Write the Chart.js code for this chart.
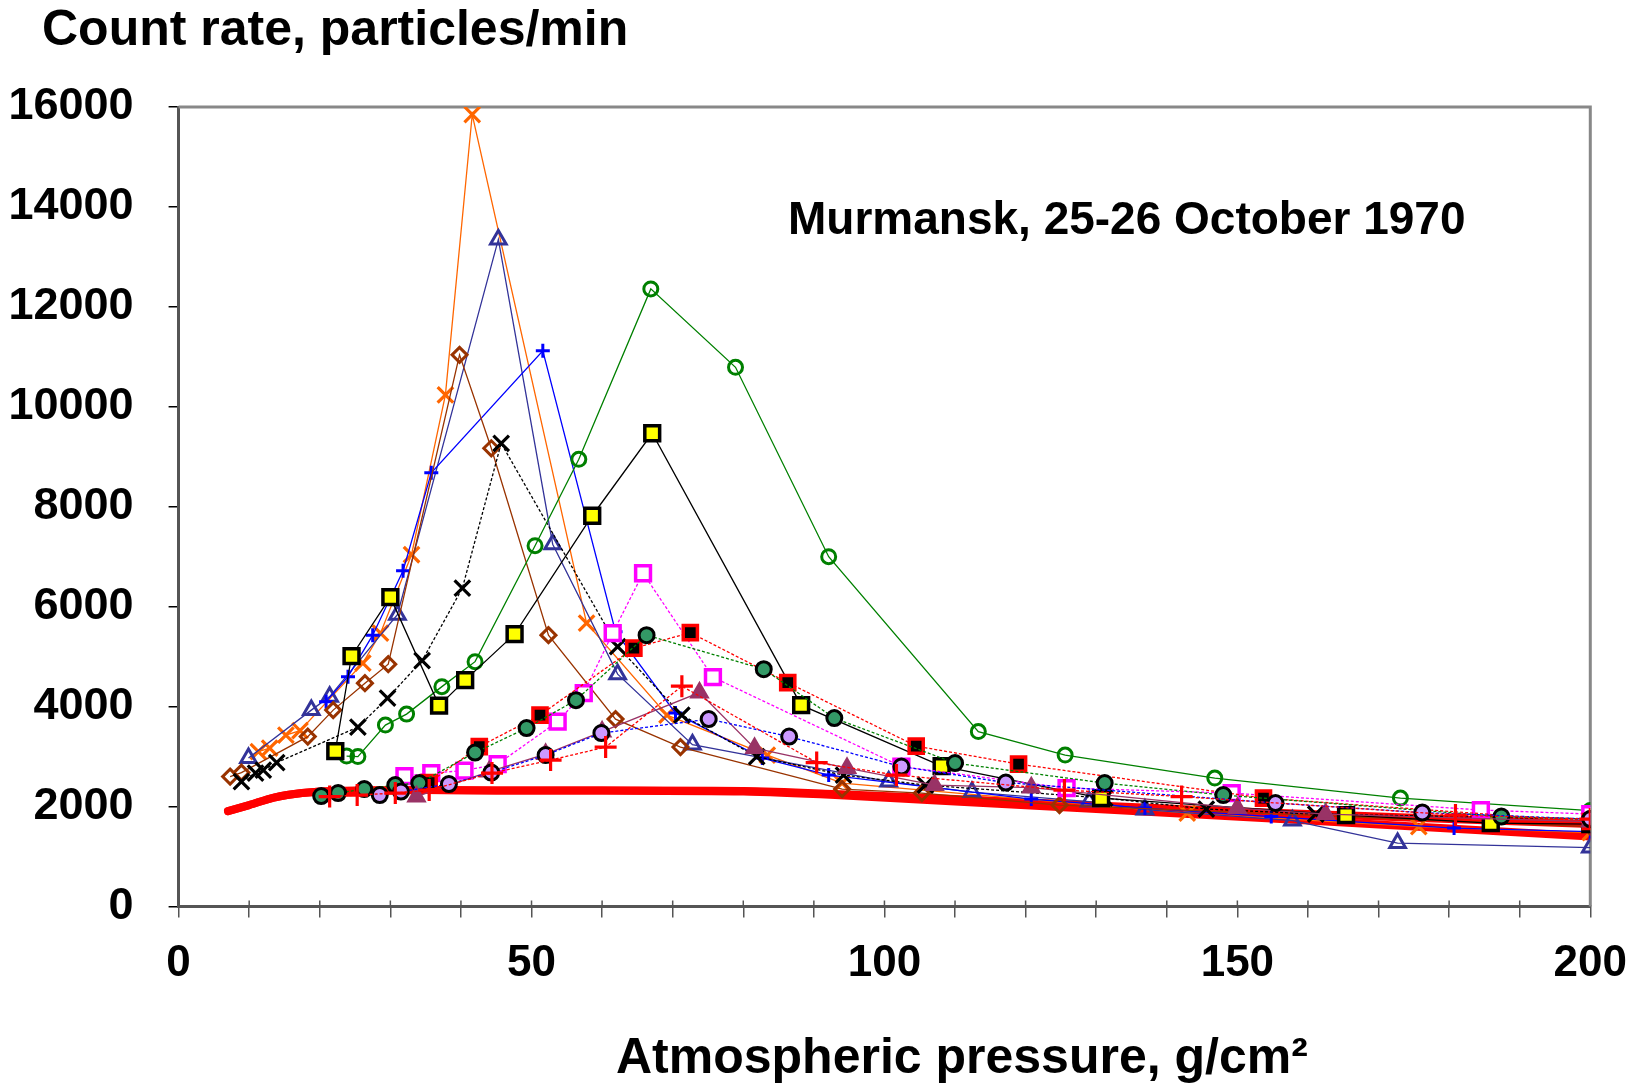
<!DOCTYPE html>
<html>
<head>
<meta charset="utf-8">
<script src="https://cdn.jsdelivr.net/npm/chart.js@4.4.1/dist/chart.umd.min.js"></script>
<style>html,body{margin:0;padding:0;background:#fff}canvas{display:block}</style>
</head>
<body>
<canvas id="cnt" width="1647" height="1084"></canvas>
<script>
// pressure g/cm2 (P) and count rate particles/min (C), one pair per flight
var orangeXP = [11.3, 12.9, 15.2, 17.2, 26.1, 28.6, 33.0, 37.8, 41.6, 57.8, 69.2, 83.4, 94.0, 142.9, 175.7, 200];
var orangeXC = [3100, 3170, 3430, 3520, 4870, 5470, 7040, 10240, 15850, 5670, 3830, 3030, 2470, 1870, 1600, 1480];
var navyTriP = [9.9, 18.8, 21.4, 31.0, 45.3, 53.0, 62.2, 72.8, 100.6, 112.4, 129.0, 136.9, 157.8, 172.7, 200];
var navyTriC = [2970, 3930, 4200, 5840, 13350, 7250, 4650, 3240, 2500, 2290, 2100, 1940, 1720, 1270, 1180];
var bluePlusP = [20.9, 24.0, 27.5, 31.8, 35.8, 51.6, 61.9, 70.4, 82.7, 92.1, 120.8, 136.9, 154.8, 180.7, 200];
var bluePlusC = [4100, 4600, 5430, 6720, 8680, 11120, 5500, 3870, 2970, 2630, 2150, 1970, 1800, 1570, 1500];
var brownDiaP = [7.3, 8.9, 18.3, 21.9, 26.4, 29.7, 39.8, 44.3, 52.4, 61.9, 71.1, 94.0, 105.3, 124.8, 200];
var brownDiaC = [2600, 2680, 3400, 3930, 4470, 4850, 11040, 9170, 5430, 3750, 3190, 2350, 2270, 2030, 1600];
var blackXP = [8.9, 10.9, 12.0, 13.9, 25.4, 29.6, 34.5, 40.2, 45.7, 62.2, 71.3, 81.9, 94.2, 105.8, 131.2, 145.6, 161.1, 200];
var blackXC = [2500, 2670, 2730, 2880, 3590, 4170, 4920, 6370, 9270, 5200, 3830, 3000, 2630, 2430, 2170, 1950, 1850, 1750];
var greenRingP = [23.8, 25.4, 29.3, 32.3, 37.3, 42.0, 50.5, 56.7, 66.9, 78.9, 92.1, 113.3, 125.6, 146.8, 173.1, 200];
var greenRingC = [3010, 3000, 3630, 3850, 4400, 4900, 7220, 8950, 12360, 10790, 7000, 3500, 3030, 2570, 2170, 1920];
var yellowSqP = [22.2, 24.5, 30.0, 36.9, 40.6, 47.6, 58.6, 67.1, 88.2, 108.1, 130.7, 165.4, 185.9, 200];
var yellowSqC = [3110, 5010, 6190, 4020, 4530, 5450, 7820, 9470, 4030, 2810, 2170, 1830, 1670, 1650];
var greenDotP = [20.2, 22.6, 26.3, 30.7, 34.1, 42.0, 49.3, 56.3, 66.3, 82.9, 92.9, 110.0, 131.2, 148.0, 187.4, 200];
var greenDotC = [2210, 2270, 2350, 2430, 2470, 3080, 3570, 4130, 5430, 4750, 3770, 2870, 2470, 2230, 1800, 1750];
var redSqP = [35.5, 42.6, 51.2, 64.5, 72.5, 86.3, 104.5, 119.0, 153.7, 200];
var redSqC = [2480, 3200, 3830, 5170, 5480, 4480, 3210, 2850, 2170, 1700];
var magentaSqP = [32.0, 35.8, 40.5, 45.2, 53.7, 57.4, 61.5, 65.8, 75.7, 102.4, 125.8, 149.2, 184.5, 200];
var magentaSqC = [2610, 2670, 2720, 2850, 3700, 4270, 5470, 6670, 4590, 2800, 2370, 2270, 1930, 1850];
var redPlusP = [21.4, 25.3, 30.7, 35.5, 44.4, 52.7, 60.5, 71.3, 90.4, 101.7, 125.5, 142.1, 180.9, 200];
var redPlusC = [2200, 2230, 2270, 2330, 2670, 2930, 3190, 4410, 2880, 2630, 2330, 2200, 1830, 1750];
var lilacP = [28.5, 31.5, 38.3, 44.3, 52.0, 59.9, 75.1, 86.5, 102.4, 117.2, 155.4, 176.2, 200];
var lilacC = [2230, 2300, 2450, 2680, 3030, 3470, 3750, 3400, 2800, 2480, 2070, 1880, 1750];
var purpleTriP = [33.7, 44.0, 52.0, 60.0, 73.8, 81.6, 94.7, 107.1, 120.8, 150.0, 162.5, 200];
var purpleTriC = [2200, 2700, 3050, 3500, 4280, 3170, 2770, 2430, 2380, 1970, 1850, 1700];
// background curve (thick red)
var bgP = [7, 10, 13.5, 17.5, 22, 35, 45, 60, 80, 93, 110, 130, 160, 200];
var bgC = [1910, 2030, 2180, 2270, 2310, 2330, 2320, 2320, 2310, 2250, 2150, 2020, 1850, 1650];
var bg2P = [7, 10, 13.5, 17.5, 22, 35, 45, 60, 80, 93, 110, 130, 160, 200];
var bg2C = [1910, 2030, 2180, 2270, 2310, 2330, 2320, 2320, 2300, 2230, 2100, 1950, 1720, 1400];

var xTicks = [0, 50, 100, 150, 200];

function pts(p, c) { return p.map(function (x, i) { return {x: x, y: c[i]}; }); }
function series(p, c, o) {
  var d = {data: pts(p, c), showLine: true, borderWidth: 1.3, pointBorderWidth: 2.8, pointHoverRadius: 0};
  for (var k in o) d[k] = o[k];
  return d;
}

var datasets = [
  series(redPlusP, redPlusC, {borderColor: '#ff0000', borderDash: [3, 2], pointStyle: 'cross', pointRadius: 11, pointBorderColor: '#ff0000', pointBorderWidth: 3.2}),
  series(lilacP, lilacC, {borderColor: '#0000ff', borderDash: [3, 2], pointStyle: 'circle', pointRadius: 7.5, pointBackgroundColor: '#cc99ff', pointBorderColor: '#000', pointBorderWidth: 3}),
  series(purpleTriP, purpleTriC, {borderColor: '#993366', pointStyle: 'triangle', pointRadius: 9, pointBackgroundColor: '#993366', pointBorderColor: '#993366'}),
  series(greenDotP, greenDotC, {borderColor: '#008000', borderDash: [3, 2], pointStyle: 'circle', pointRadius: 7.5, pointBackgroundColor: '#339966', pointBorderColor: '#000', pointBorderWidth: 3}),
  series(redSqP, redSqC, {borderColor: '#ff0000', borderDash: [3, 2], pointStyle: 'rect', pointRadius: 10, pointBackgroundColor: '#000', pointBorderColor: '#ff0000', pointBorderWidth: 3.5}),
  series(magentaSqP, magentaSqC, {borderColor: '#ff00ff', borderDash: [3, 2], pointStyle: 'rect', pointRadius: 10.5, pointBackgroundColor: '#fff', pointBorderColor: '#ff00ff', pointBorderWidth: 3.5}),
  series(yellowSqP, yellowSqC, {borderColor: '#000', pointStyle: 'rect', pointRadius: 10.5, pointBackgroundColor: '#ffff00', pointBorderColor: '#000', pointBorderWidth: 3.5}),
  series(greenRingP, greenRingC, {borderColor: '#008000', pointStyle: 'circle', pointRadius: 7, pointBackgroundColor: 'rgba(255,255,255,0)', pointBorderColor: '#008000', pointBorderWidth: 3}),
  series(blackXP, blackXC, {borderColor: '#000', borderDash: [3, 2], pointStyle: 'crossRot', pointRadius: 11, pointBorderColor: '#000', pointBorderWidth: 3.2}),
  series(brownDiaP, brownDiaC, {borderColor: '#993300', pointStyle: 'rectRot', pointRadius: 7.5, pointBackgroundColor: 'rgba(255,255,255,0)', pointBorderColor: '#993300', pointBorderWidth: 3}),
  series(bluePlusP, bluePlusC, {borderColor: '#0000ff', pointStyle: 'cross', pointRadius: 7, pointBorderColor: '#0000ff', pointBorderWidth: 3}),
  series(navyTriP, navyTriC, {borderColor: '#333399', pointStyle: 'triangle', pointRadius: 9, pointBackgroundColor: 'rgba(255,255,255,0)', pointBorderColor: '#333399', pointBorderWidth: 3}),
  series(orangeXP, orangeXC, {borderColor: '#ff6600', pointStyle: 'crossRot', pointRadius: 11, pointBorderColor: '#ff6600', pointBorderWidth: 3.2}),
  series(bgP, bgC, {borderColor: '#ff0000', borderWidth: 8, pointRadius: 0, tension: 0.3, borderCapStyle: 'round'}),
  series(bg2P, bg2C, {borderColor: '#ff0000', borderWidth: 8, pointRadius: 0, tension: 0.3, borderCapStyle: 'round'})
];

var FONT = "'Liberation Sans', Arial, sans-serif";

var decor = {
  id: 'decor',
  beforeDatasetsDraw: function (chart) {
    var ctx = chart.ctx, a = chart.chartArea, xs = chart.scales.x;
    ctx.save();
    ctx.strokeStyle = '#888';
    ctx.lineWidth = 3;
    ctx.beginPath();
    ctx.moveTo(a.left, a.top); ctx.lineTo(a.right, a.top); ctx.lineTo(a.right, a.bottom);
    ctx.stroke();
    // upper half of the x minor ticks
    ctx.strokeStyle = '#555';
    ctx.lineWidth = 1.5;
    for (var v = 10; v < 200; v += 10) {
      var px = xs.getPixelForValue(v);
      ctx.beginPath(); ctx.moveTo(px, a.bottom - 6); ctx.lineTo(px, a.bottom); ctx.stroke();
    }
    ctx.restore();
  },
  afterDraw: function (chart) {
    var ctx = chart.ctx;
    ctx.save();
    ctx.fillStyle = '#000';
    ctx.textBaseline = 'alphabetic';
    ctx.textAlign = 'left';
    ctx.font = 'bold 50px ' + FONT;
    ctx.fillText('Count rate, particles/min', 42, 45);
    ctx.font = 'bold 46px ' + FONT;
    ctx.fillText('Murmansk, 25-26 October 1970', 788, 234);
    ctx.font = 'bold 50px ' + FONT;
    ctx.fillText('Atmospheric pressure, g/cm\u00b2', 616, 1073);
    ctx.restore();
  }
};

new Chart(document.getElementById('cnt'), {
  type: 'scatter',
  data: {datasets: datasets},
  options: {
    responsive: false,
    animation: false,
    events: [],
    layout: {padding: {left: 0, top: 107, right: 53.5, bottom: 0}},
    plugins: {legend: {display: false}, tooltip: {enabled: false}},
    scales: {
      x: {
        type: 'linear', min: 0, max: 200,
        afterFit: function (s) { s.height = 177.5; },
        border: {color: '#555', width: 3},
        grid: {drawOnChartArea: false, drawTicks: true, tickLength: 11, color: '#555', lineWidth: 1.5},
        ticks: {
          stepSize: 10, autoSkip: false, maxRotation: 0, padding: 20, color: '#000',
          font: {family: FONT, size: 44, weight: 'bold'},
          callback: function (v) { return xTicks.indexOf(v) >= 0 ? String(v) : ''; }
        }
      },
      y: {
        min: 0, max: 16000,
        afterFit: function (s) { s.width = 178.6; },
        border: {color: '#555', width: 3},
        grid: {drawOnChartArea: false, drawTicks: true, tickLength: 10, color: '#000', lineWidth: 1.5},
        ticks: {
          stepSize: 2000, padding: 35, color: '#000',
          font: {family: FONT, size: 45, weight: 'bold'},
          callback: function (v) { return String(v); }
        }
      }
    }
  },
  plugins: [decor]
});
</script>
</body>
</html>
